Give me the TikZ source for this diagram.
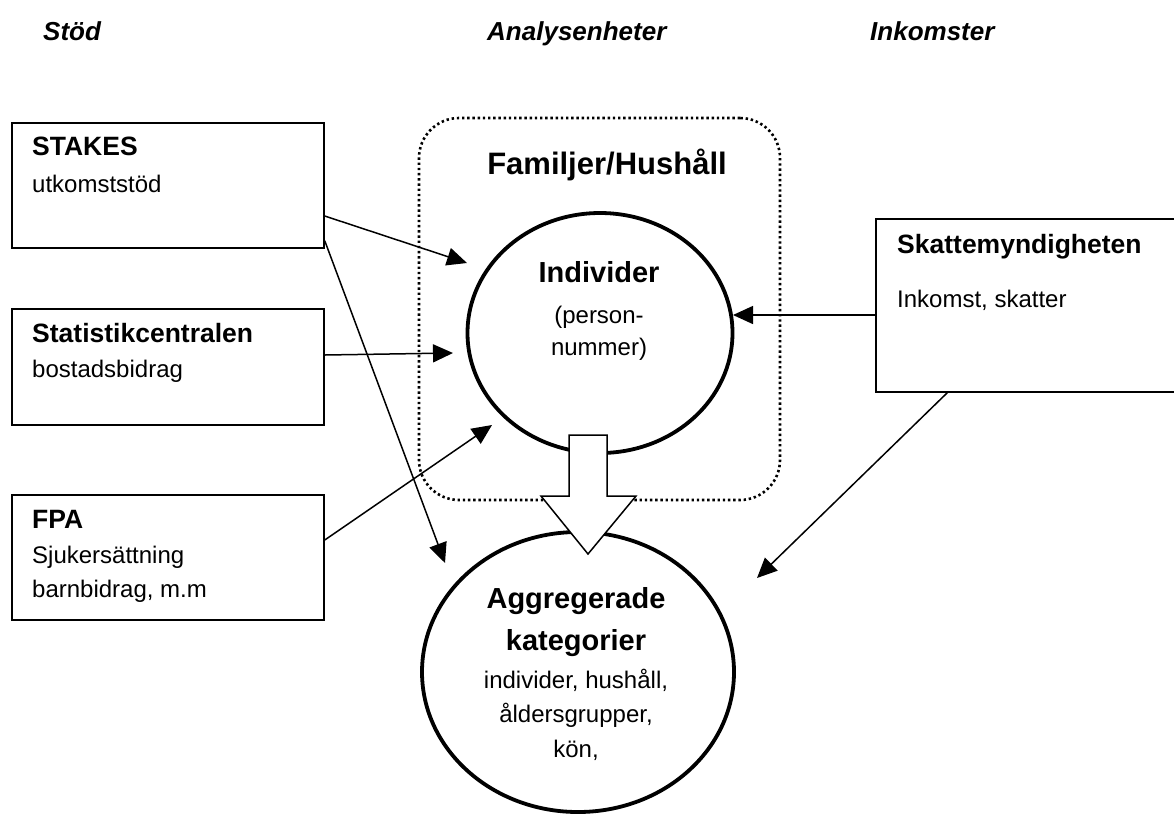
\documentclass[tikz,border=0pt]{standalone}
\usepackage{fontspec}
\setmainfont{Liberation Sans}
\usetikzlibrary{arrows.meta,shapes.geometric}

\begin{document}
\begin{tikzpicture}[x=1pt,y=-1pt,
    hdr/.style={anchor=base west,inner sep=0pt,font=\fontsize{26}{30}\selectfont\bfseries\itshape},
    srcbox/.style={draw,line width=1.5pt,minimum width=312pt,inner sep=0pt},
    ttl/.style={anchor=base west,inner sep=0pt,font=\fontsize{26.5}{30}\selectfont\bfseries},
    txt/.style={anchor=base west,inner sep=0pt,font=\fontsize{24}{28}\selectfont},
    big/.style={anchor=base,inner sep=0pt,font=\fontsize{29}{34}\selectfont\bfseries},
    mid/.style={anchor=base,inner sep=0pt,font=\fontsize{24}{28}\selectfont},
    unit/.style={draw,ellipse,line width=3.8pt,inner sep=0pt,fill=white},
    conn/.style={line width=1.5pt,-{Triangle[length=20pt,width=18pt]}}]

    \useasboundingbox (0,0) rectangle (1174,815);

    % column headings
    \node[hdr] (stod) at (43,40) {Stöd};
    \node[hdr] (analys) at (487,40) {Analysenheter};
    \node[hdr] (inkomst) at (870,40) {Inkomster};

    % sources
    \node[srcbox,minimum height=125pt] (stakes) at (168,185.5) {};
    \node[ttl] (stakesT) at (32,155) {STAKES};
    \node[txt] (stakesS) at (32,192) {utkomststöd};

    \node[srcbox,minimum height=116pt] (statc) at (168,367) {};
    \node[ttl] (statcT) at (32,342) {Statistikcentralen};
    \node[txt] (statcS) at (32,377) {bostadsbidrag};

    \node[srcbox,minimum height=125pt] (fpa) at (168,557.5) {};
    \node[ttl] (fpaT) at (32,528) {FPA};
    \foreach \y/\txt [count=\i] in {563/Sjukersättning, 597/{barnbidrag, m.m}}
        \node[txt] (fpaS\i) at (32,\y) {\txt};

    \node[srcbox,minimum width=314pt,minimum height=173pt] (skatt) at (1033,305.5) {};
    \node[ttl] (skattT) at (897,253) {Skattemyndigheten};
    \node[txt] (skattS) at (897,307) {Inkomst, skatter};

    % units of analysis
    \node[draw,line width=2.6pt,dash pattern=on 2.4pt off 2.8pt,rounded corners=40pt,
          minimum width=361pt,minimum height=382pt] (fam) at (599.5,309) {};
    \node[big,font=\fontsize{31}{36}\selectfont\bfseries] (famT) at (607,174) {Familjer/Hushåll};

    \node[unit,minimum width=265pt,minimum height=240pt] (ind) at (600,333) {};
    \node[big] (indT) at (599,282) {Individer};
    \foreach \y/\txt [count=\i] in {323/(person-, 355/nummer)}
        \node[mid] (indS\i) at (599,\y) {\txt};

    \node[unit,minimum width=312pt,minimum height=280pt] (agg) at (578,672) {};
    \foreach \y/\txt [count=\i] in {608/Aggregerade, 650/kategorier}
        \node[big] (aggT\i) at (576,\y) {\txt};
    \foreach \y/\txt [count=\i] in {688/{individer, hushåll,}, 722/{åldersgrupper,}, 757/{kön,}}
        \node[mid] (aggS\i) at (576,\y) {\txt};

    % arrow ends
    \coordinate (e1) at (467,263);
    \coordinate (e2) at (445,563);
    \coordinate (e3) at (453,353);
    \coordinate (e4) at (492,425);
    \coordinate (e5) at (733,315);
    \coordinate (e6) at (757,578);

    \draw[conn] ([yshift=-30.5pt]stakes.east) -- (e1);
    \draw[conn] ([yshift=8pt]stakes.south east) -- (e2);
    \draw[conn] ([yshift=12pt]statc.east) -- (e3);
    \draw[conn] ([yshift=17.5pt]fpa.east) -- (e4);
    \draw[conn] ([yshift=-9.5pt]skatt.west) -- (e5);
    \draw[conn] ([xshift=72pt]skatt.south west) -- (e6);

    % block arrow from individer to aggregerade
    \coordinate (blk) at (588,554);
    \draw[fill=white,line width=1.5pt] (blk) -- ++(-47,-58) -- ++(28,0) -- ++(0,-61)
        -- ++(38,0) -- ++(0,61) -- ++(29,0) -- cycle;
\end{tikzpicture}
\end{document}
